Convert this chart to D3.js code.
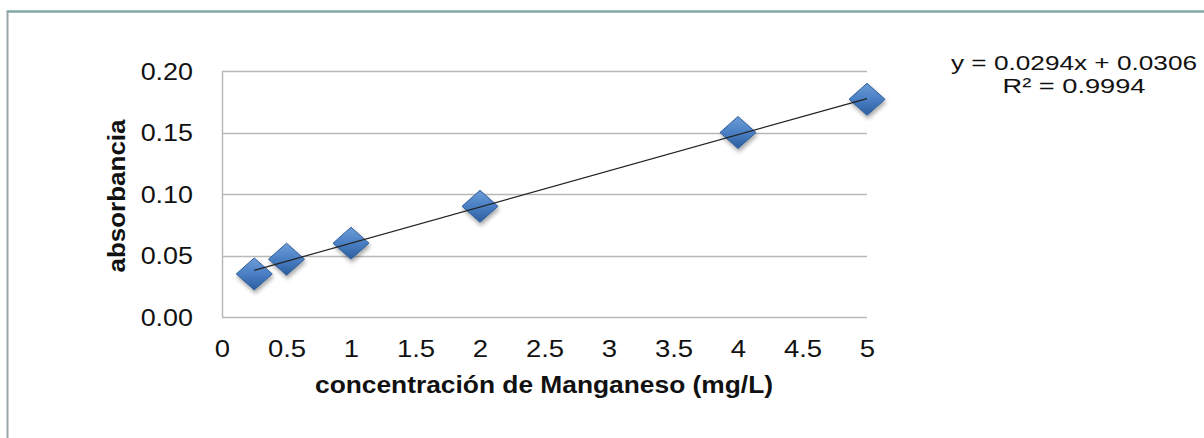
<!DOCTYPE html>
<html><head><meta charset="utf-8">
<script src="https://cdn.jsdelivr.net/npm/d3@7"></script>
<style>body{margin:0;background:#fff}svg{display:block}text{font-family:"Liberation Sans",Arial,sans-serif}</style>
</head><body>
<script>
const concentrations = [0.25, 0.5, 1, 2, 4, 5];
const absorbances = [0.035, 0.047, 0.060, 0.090, 0.150, 0.177];
const xTicks = [0, 0.5, 1, 1.5, 2, 2.5, 3, 3.5, 4, 4.5, 5];
const yTicks = [0, 0.05, 0.10, 0.15, 0.20];
const slope = 0.0294, intercept = 0.0306;
const equationLines = ["y = 0.0294x + 0.0306", "R² = 0.9994"];

const W = 1204, H = 438;
const SX = 1.17; // horizontal stretch of the reference text
const svg = d3.select("body").append("svg").attr("width", W).attr("height", H);
const defs = svg.append("defs");
const grad = defs.append("linearGradient").attr("id","dg").attr("x1","0").attr("y1","0").attr("x2","0").attr("y2","1");
grad.append("stop").attr("offset","0%").attr("stop-color","#6d9dd8");
grad.append("stop").attr("offset","50%").attr("stop-color","#4a7fc4");
grad.append("stop").attr("offset","100%").attr("stop-color","#2c5d9e");
const sh = defs.append("filter").attr("id","sh").attr("x","-50%").attr("y","-50%").attr("width","200%").attr("height","200%");
sh.append("feDropShadow").attr("dx",1).attr("dy",3).attr("stdDeviation",2).attr("flood-color","#000").attr("flood-opacity",0.35);

// outer frame
svg.append("rect").attr("x",7.5).attr("y",11.5).attr("width",W+20).attr("height",H+20)
  .attr("fill","#fff").attr("stroke","#9aa6a8").attr("stroke-width",2);
svg.append("line").attr("x1",7).attr("x2",W).attr("y1",11.5).attr("y2",11.5).attr("stroke","#7fa5a8").attr("stroke-width",2);

const x = d3.scaleLinear().domain([0,5]).range([222,867]);
const y = d3.scaleLinear().domain([0,0.2]).range([317,71]);

// gridlines
svg.append("g").selectAll("line").data(yTicks).join("line")
  .attr("x1",x(0)).attr("x2",x(5)).attr("y1",d=>Math.round(y(d))+0.5).attr("y2",d=>Math.round(y(d))+0.5)
  .attr("stroke","#b8b8b8").attr("stroke-width",1.5);
svg.append("line").attr("x1",x(0)+0.5).attr("x2",x(0)+0.5).attr("y1",y(0.2)).attr("y2",y(0))
  .attr("stroke","#b8b8b8").attr("stroke-width",1.5);

// y axis
const yAxis = svg.append("g").attr("transform",`translate(${x(0)},0)`)
  .call(d3.axisLeft(y).tickValues(yTicks).tickFormat(d3.format(".2f")).tickSize(0).tickPadding(0));
yAxis.select(".domain").remove();
yAxis.selectAll("text").attr("x",-29/SX).attr("dy","0.36em").attr("font-size",23).attr("fill","#111")
  .attr("transform",`scale(${SX},1)`).style("font-family","Liberation Sans, Arial");

// x axis
const xAxis = svg.append("g").attr("transform",`translate(0,${y(0)})`)
  .call(d3.axisBottom(x).tickValues(xTicks).tickFormat(d=>String(d)).tickSize(0).tickPadding(0));
xAxis.select(".domain").remove();
xAxis.selectAll("text").attr("y",40).attr("dy",null).attr("font-size",23.5).attr("fill","#111")
  .attr("transform",`scale(${SX},1)`).style("font-family","Liberation Sans, Arial");

// titles
svg.append("text").attr("transform",`translate(125,196) rotate(-90)`).attr("text-anchor","middle")
  .attr("font-size",23).attr("font-weight","bold").attr("fill","#111")
  .attr("textLength",153).attr("lengthAdjust","spacingAndGlyphs").text("absorbancia");
svg.append("text").attr("x",544).attr("y",393).attr("text-anchor","middle")
  .attr("font-size",23.5).attr("font-weight","bold").attr("fill","#111")
  .attr("textLength",458).attr("lengthAdjust","spacingAndGlyphs").text("concentración de Manganeso (mg/L)");

// points
const pts = concentrations.map((c,i)=>({c, a: absorbances[i]}));
const rx = 18, ry = 16;
svg.append("g").selectAll("path").data(pts).join("path")
  .attr("d",d=>`M${x(d.c)},${y(d.a)-ry}L${x(d.c)+rx},${y(d.a)}L${x(d.c)},${y(d.a)+ry}L${x(d.c)-rx},${y(d.a)}Z`)
  .attr("fill","url(#dg)").attr("stroke","#2f5f9c").attr("stroke-width",1).attr("filter","url(#sh)");

// trendline
const x0 = d3.min(concentrations), x1 = d3.max(concentrations);
svg.append("line").attr("x1",x(x0)).attr("y1",y(slope*x0+intercept)).attr("x2",x(x1)).attr("y2",y(slope*x1+intercept))
  .attr("stroke","#222").attr("stroke-width",1.2);

// equation
const eqLens = [246, 143];
equationLines.forEach((t,i)=>svg.append("text").attr("x",1074).attr("y",70+i*23).attr("text-anchor","middle")
  .attr("font-size",21).attr("fill","#111").attr("textLength",eqLens[i]).attr("lengthAdjust","spacingAndGlyphs").text(t));
</script>
</body></html>
